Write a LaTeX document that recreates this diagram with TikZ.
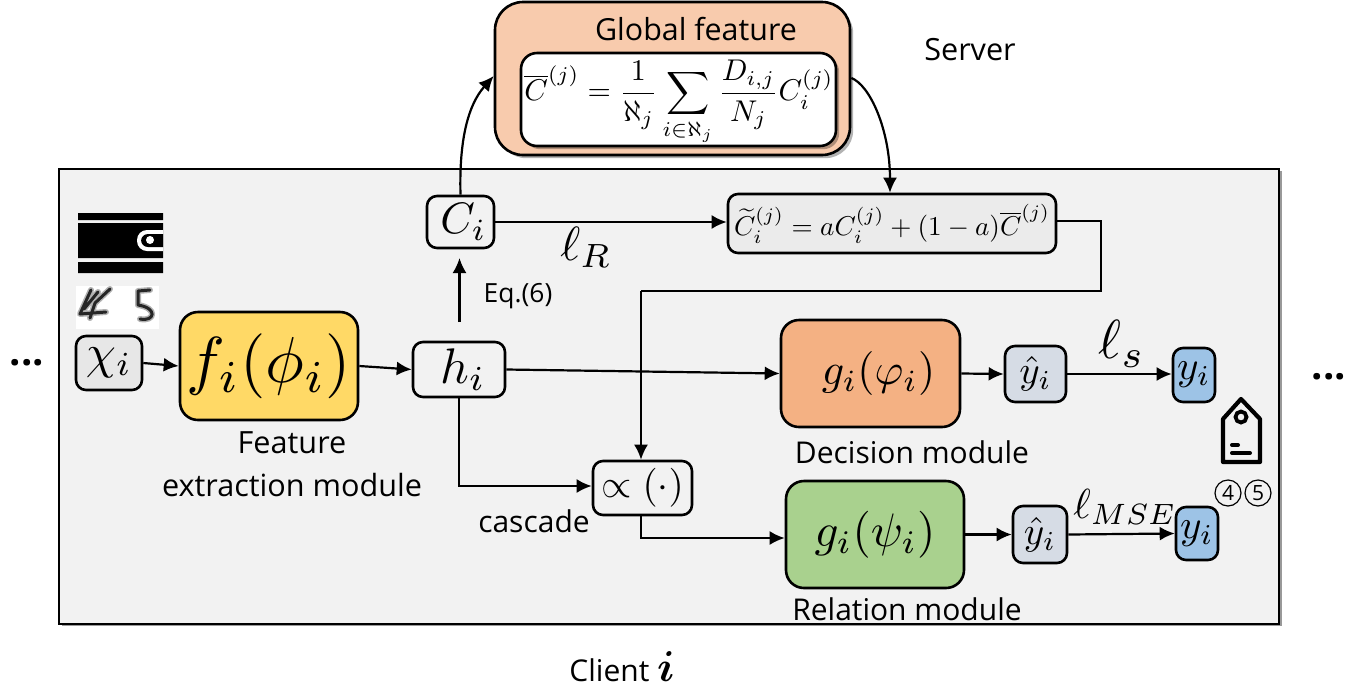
\documentclass[tikz,border=0pt]{standalone}
\usepackage{graphicx}
\usepackage{amsmath}
\usepackage{fontspec}
\setmainfont{Open Sans}
\usetikzlibrary{arrows.meta,shadows}
\newcommand{\fsz}[1]{\fontsize{#1}{#1}\selectfont}
\newcommand{\mth}[2]{\scalebox{#1}{$\displaystyle #2$}}
\definecolor{clientbg}{HTML}{F2F2F2}
\definecolor{serverbg}{HTML}{F8CBAD}
\definecolor{inputbg}{HTML}{E7E7E7}
\definecolor{featbg}{HTML}{FFD966}
\definecolor{decbg}{HTML}{F4B183}
\definecolor{relbg}{HTML}{A9D18E}
\definecolor{predbg}{HTML}{D6DCE5}
\definecolor{labbg}{HTML}{9DC3E6}
\tikzset{
  px/.style={x=0.5pt,y=-0.5pt},
  box/.style={draw=black,line width=1.3pt,rounded corners=5pt,inner sep=0pt,align=center,text=black},
  bigbox/.style={box,rounded corners=9pt},
  conn/.style={line width=1.1pt,-{Latex[length=7.5pt,width=7pt]}},
  lab/.style={inner sep=0pt,text=black,align=center},
  softshadow/.style={drop shadow={shadow xshift=1.6pt,shadow yshift=-1.6pt,opacity=.3,fill=black}},
  inkblur/.style={line join=round,line cap=round,black,opacity=.3,line width=3pt},
  inkcore/.style={line join=round,line cap=round,black!85,line width=1.5pt},
  circnum/.style={draw=black,circle,line width=.6pt,inner sep=0pt,minimum size=13pt,font=\fsz{10.5},text=black},
}
\begin{document}
\begin{tikzpicture}[px]
\useasboundingbox (0,0) rectangle (1367,692);
% client panel
\node[draw=black,line width=1.2pt,fill=clientbg,minimum width=610pt,minimum height=227.5pt,inner sep=0pt,
  drop shadow={shadow xshift=1.5pt,shadow yshift=-1pt,opacity=.4,fill=black}] (client) at (669,396.5) {};
% server
\node[bigbox,fill=serverbg,rounded corners=14pt,minimum width=177.5pt,minimum height=76.5pt,softshadow] (server) at (672.5,78.5) {};
\node[box,fill=white,rounded corners=8pt,minimum width=157.5pt,minimum height=46.5pt,softshadow] (globalbox) at (678.5,99.5) {};
\node[lab] (globaleq) at (679,103)
  {\mth{1.5}{\overline{C}^{(j)}=\frac{1}{\aleph_j}\sum_{i\in\aleph_j}\frac{D_{i,j}}{N_j}C_i^{(j)}}};
\node[lab,font=\fsz{15.2}] (globaltitle) at (696,29) {Global feature};
\node[lab,font=\fsz{15.3}] (servertext) at (970,50) {Server};
% boxes
\node[box,fill=inputbg,minimum width=33pt,minimum height=27pt] (xi) at (109,363) {\mth{2.4}{\chi_i}};
\node[bigbox,fill=featbg,minimum width=89pt,minimum height=54pt] (f) at (269,366) {\mth{3.25}{f_i(\phi_i)}};
\node[box,fill=clientbg,minimum width=46pt,minimum height=27.5pt] (h) at (459,369.5) {\hspace{4pt}\mth{2.5}{h_i}};
\node[box,fill=clientbg,minimum width=33.5pt,minimum height=26pt] (c) at (460.5,222) {\hspace{3pt}\mth{2.2}{C_i}};
\node[box,fill=inputbg!60!clientbg,minimum width=164pt,minimum height=29.5pt] (ct) at (892,223.5)
  {\mth{1.36}{\widetilde{C}_i^{(j)}=aC_i^{(j)}+(1-a)\overline{C}^{(j)}}};
\node[bigbox,fill=decbg,minimum width=89.5pt,minimum height=53.5pt] (g1) at (870.5,373.5) {\hspace{8pt}\mth{2.2}{g_i(\varphi_i)}};
\node[box,fill=predbg,minimum width=30.5pt,minimum height=28pt] (yh1) at (1035.5,374) {\mth{1.95}{\hat y_i}};
\node[box,fill=labbg,minimum width=21pt,minimum height=27pt] (y1) at (1194,375) {\mth{2.05}{y_i}};
\node[box,fill=clientbg,minimum width=49.5pt,minimum height=27pt] (prop) at (642.5,488) {\mth{1.95}{\propto(\cdot)}};
\node[bigbox,fill=relbg,minimum width=89pt,minimum height=53.5pt] (g2) at (875,534.5) {\mth{2.35}{g_i(\psi_i)}};
\node[box,fill=predbg,minimum width=27pt,minimum height=28.5pt] (yh2) at (1040,534.5) {\mth{1.95}{\hat y_i}};
\node[box,fill=labbg,minimum width=21pt,minimum height=26.5pt] (y2) at (1197,533.5) {\mth{2.05}{y_i}};
% free connector ends
\coordinate (hup) at (459.5,322);
\coordinate (cin) at (459.5,258);
\coordinate (ctright) at (1101,221);
\coordinate (loop) at (1101,291);
\coordinate (loopl) at (641,291);
% connectors
\draw[conn] (xi.east) -- (f.west);
\draw[conn] (f.east) -- (h.west);
\draw[conn] (hup) -- (cin);
\draw[conn] (c.north) .. controls (459,140) and (468,105) .. (server.west |- 0,76);
\draw[conn] (server.east |- 0,78) .. controls (870,85) and (890,130) .. (ct.north -| 890,0);
\draw[conn] (c.east) -- (ct.west |- c.east);
\draw[line width=1.1pt] (ct.east |- ctright) -- (ctright) -- (loop) -- (loopl);
\draw[conn] (loopl) -- (loopl |- prop.north);
\draw[conn] (h.east) -- (g1.west);
\draw[conn] (h.south) |- (prop.west |- 0,486);
\draw[conn] (prop.south -| 641,0) |- (g2.west |- 0,538);
\draw[conn] (g1.east) -- (yh1.west);
\draw[conn] (yh1.east) -- (y1.west |- yh1.east);
\draw[conn] (g2.east) -- (yh2.west);
\draw[conn] (yh2.east) -- (y2.west);
% labels
\node[lab,font=\fsz{15.3}] (feat) at (292,464.5) {Feature\\[6pt]extraction module};
\node[lab,font=\fsz{15}] (dec) at (912,452) {Decision module};
\node[lab,font=\fsz{15}] (rel) at (907,609) {Relation module};
\node[lab,font=\fsz{15}] (casc) at (534,521) {cascade};
\node[lab,font=\fsz{13.2}] (eq6) at (518,296) {Eq.(6)};
\node[lab,font=\fsz{15},anchor=base] (clienttext) at (622,681) {Client \mth{1.5}{\boldsymbol{i}}};
\node[lab] (lr) at (586,247) {\mth{2.4}{\ell_R}};
\node[lab] (ls) at (1122,344) {\mth{2.75}{\ell_s}};
\node[lab] (lm) at (1125,507) {\mth{2.1}{\ell_{MSE}}};
\node[circnum] (c4) at (1228,493) {4};
\node[circnum] (c5) at (1258,493) {5};
\node[lab,font={\fsz{20}\bfseries}] (dl) at (27,363) {...};
\node[lab,font={\fsz{20}\bfseries}] (dr) at (1329,377) {...};
% wallet icon
\begin{scope}
\clip (78,213) rectangle (163,273);
\fill[black] (78,213) rectangle (163,220) (78,223) rectangle (163,258) (78,262) rectangle (163,273);
\fill[white,rounded corners=5pt] (137,230) rectangle (175,251);
\fill[black,rounded corners=3.5pt] (141,234) rectangle (175,247);
\fill[white] (150,240) circle (4);
\end{scope}
% digits
\fill[white] (76,286) rectangle (159,329);
\draw[inkblur] (91,290) -- (80,314) -- (106,312) (110,289) -- (95,303) -- (90,318) (98,292) -- (84,309);
\draw[inkcore] (91,290) -- (80,314) -- (106,312) (110,289) -- (95,303) -- (90,318) (98,292) -- (84,309);
\draw[inkblur] (150,290) -- (138,291) -- (138,305) .. controls (158,308) and (155,322) .. (140,319);
\draw[inkcore] (150,290) -- (138,291) -- (138,305) .. controls (158,308) and (155,322) .. (140,319);
% tag icon
\draw[black,line width=2.1pt,line join=round] (1223,462) -- (1223,419) -- (1241,399) -- (1260,419) -- (1260,462) -- cycle;
\draw[black,line width=1.9pt] (1241,417) circle (5.5);
\draw[black,line width=2pt,line cap=round] (1232,445) -- (1238,445) (1232,453) -- (1250,453);
\end{tikzpicture}
\end{document}
